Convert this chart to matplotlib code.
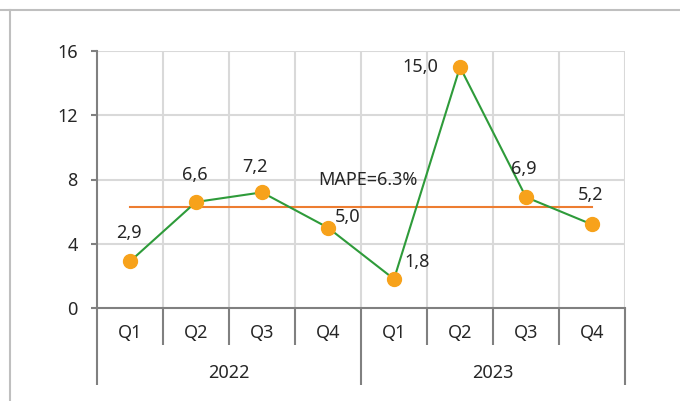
import numpy as np
import matplotlib.pyplot as plt
from matplotlib.lines import Line2D

# Daten
quartale = ["Q1", "Q2", "Q3", "Q4", "Q1", "Q2", "Q3", "Q4"]
jahre = ["2022", "2023"]
werte = [2.9, 6.6, 7.2, 5.0, 1.8, 15.0, 6.9, 5.2]
labels = ["2,9", "6,6", "7,2", "5,0", "1,8", "15,0", "6,9", "5,2"]
mape = 6.3
y_ticks = [0, 4, 8, 12, 16]

# Label-Versatz in Pixel (dx, dy)
label_offset = [(-1, 28), (-1, 27), (-7, 25), (20, 11), (23, 17),
                (-40, 0), (-2, 28), (-1, 29)]

plt.rcParams['font.family'] = ['Noto Sans', 'DejaVu Sans']
fs = 13
fig = plt.figure(figsize=(6.8, 4.01), dpi=100)
ax = fig.add_axes([97/680, 1 - 308/401, 528/680, 257/401])

x = np.arange(len(werte))
grau = "#808080"
gitter = "#D9D9D9"
text_farbe = "#262626"

ax.plot(x, werte, color="#2E9B3A", lw=1.5, zorder=3)
ax.plot(x, werte, "o", color="#F7A21B", ms=10, zorder=4)
ax.plot([x[0], x[-1]], [mape, mape], color="#ED7D31", lw=1.5, zorder=2)

for i in range(len(werte)):
    dx, dy = label_offset[i]
    ax.annotate(labels[i], (x[i], werte[i]), xytext=(dx*0.72, dy*0.72),
                textcoords="offset points", ha="center", va="center",
                fontsize=fs, color=text_farbe)
ax.annotate("MAPE=6.3%", (3.5, mape), xytext=(7*0.72, 27*0.72),
            textcoords="offset points", ha="center", va="center",
            fontsize=fs, color=text_farbe)

ax.set_xlim(-0.5, 7.5)
ax.set_ylim(0, 16)
ax.set_yticks(y_ticks)
ax.tick_params(axis="y", length=4, width=1.5, color=grau, labelsize=fs,
               labelcolor=text_farbe, pad=10)

# Gitter
for yy in y_ticks[1:]:
    ax.axhline(yy, color=gitter, lw=1.5, zorder=0)
for xx in np.arange(0.5, 8, 1):
    ax.axvline(xx, color=gitter, lw=1.5, zorder=0)

for s in ["top", "right"]:
    ax.spines[s].set_visible(False)
for s in ["left", "bottom"]:
    ax.spines[s].set_color(grau)
    ax.spines[s].set_linewidth(1.5)

# Zweistufige Kategorieachse
ax.set_xticks([-0.5, 3.5, 7.5])
ax.set_xticklabels([])
ax.set_xticks(np.arange(0.5, 7, 1), minor=True)
ax.tick_params(axis="x", which="major", length=77*0.72, width=1.5, color=grau)
ax.tick_params(axis="x", which="minor", length=37*0.72, width=1.5, color=grau)

trans = ax.get_xaxis_transform()
for i, q in enumerate(quartale):
    ax.text(x[i], -25/257, q, transform=trans, ha="center", va="center",
            fontsize=fs, color=text_farbe)
for j, jahr in enumerate(jahre):
    ax.text(1.5 + 4*j, -65/257, jahr, transform=trans, ha="center",
            va="center", fontsize=fs, color=text_farbe)

# Rahmen
fig.add_artist(Line2D([0, 1], [1 - 10/401, 1 - 10/401], color="#BFBFBF",
                      lw=1.5, transform=fig.transFigure))
fig.add_artist(Line2D([10/680, 10/680], [0, 1 - 10/401], color="#BFBFBF",
                      lw=1.5, transform=fig.transFigure))

fig.savefig("out.png", dpi=100)
